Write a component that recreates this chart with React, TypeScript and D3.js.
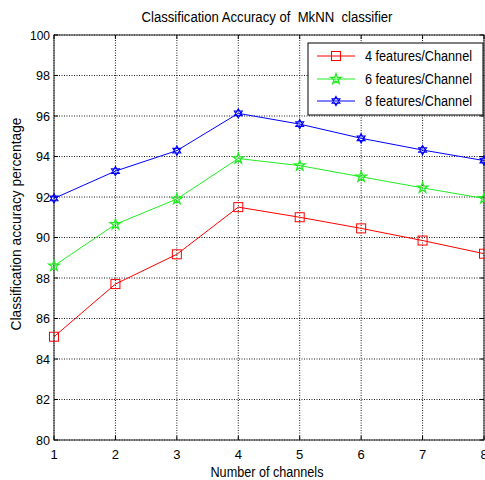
import React from "react";
import * as d3 from "d3";

const channels = [1, 2, 3, 4, 5, 6, 7, 8];
const feat4 = [85.1, 87.7, 89.17, 91.5, 91.0, 90.45, 89.85, 89.2];
const feat6 = [88.6, 90.65, 91.9, 93.9, 93.55, 93.0, 92.45, 91.93];
const feat8 = [91.93, 93.28, 94.29, 96.13, 95.6, 94.9, 94.32, 93.8];
const seriesNames = ["4 features/Channel", "6 features/Channel", "8 features/Channel"];
const yTicks = [80, 82, 84, 86, 88, 90, 92, 94, 96, 98, 100];

const W = 485, H = 480;
const left = 54, right = 484, top = 35, bottom = 440;
const FONT = "'Liberation Sans', Arial, sans-serif";

function hexagram(r: number) {
  const pts = (off: number) => d3.range(3).map(i => {
    const a = off + (i * 2 * Math.PI) / 3;
    return [r * Math.cos(a), r * Math.sin(a)];
  });
  const t1 = pts(-Math.PI / 2), t2 = pts(Math.PI / 2);
  const p = (t: number[][]) => "M" + t.map(q => q.join(",")).join("L") + "Z";
  return p(t1) + p(t2);
}

function Marker({ kind, x, y, color }: { kind: number; x: number; y: number; color: string }) {
  if (kind === 0) return <rect x={x - 4.5} y={y - 4.5} width={9} height={9} fill="none" stroke={color} strokeWidth={1} />;
  if (kind === 1) {
    const path = d3.symbol(d3.symbolStar, 34)() as string;
    return <path d={path} transform={`translate(${x},${y})`} fill="none" stroke={color} strokeWidth={1.3} />;
  }
  return <path d={hexagram(4.6)} transform={`translate(${x},${y})`} fill="none" stroke={color} strokeWidth={1.1} />;
}

export default function App() {
  const x = d3.scaleLinear().domain([1, 8]).range([left, right]);
  const y = d3.scaleLinear().domain([80, 100]).range([bottom, top]);
  const line = d3.line<number>().x((_, i) => x(channels[i])).y(d => y(d));
  const series = [feat4, feat6, feat8];
  const colors = ["#ff0000", "#22ee22", "#0000ff"];
  const legendY = [56, 79, 101];
  return (
    <svg width={W} height={H} style={{ position: "absolute", left: 0, top: 0 }}>
      <rect width={W} height={H} fill="#fff" />
      {/* grid */}
      {channels.map(c => (
        <line key={"gx" + c} x1={x(c)} x2={x(c)} y1={top} y2={bottom} stroke="#000" strokeWidth={0.9} strokeDasharray="1,1.5" />
      ))}
      {yTicks.map(t => (
        <line key={"gy" + t} x1={left} x2={right} y1={y(t)} y2={y(t)} stroke="#000" strokeWidth={0.9} strokeDasharray="1,1.5" />
      ))}
      {/* box */}
      <rect x={left} y={top} width={right - left} height={bottom - top} fill="none" stroke="#222" strokeWidth={1} />
      {/* ticks */}
      {channels.map(c => (
        <g key={"tx" + c}>
          <line x1={x(c)} x2={x(c)} y1={bottom} y2={bottom - 4} stroke="#000" />
          <line x1={x(c)} x2={x(c)} y1={top} y2={top + 4} stroke="#000" />
          <text x={x(c)} y={459} fontSize={13} fontFamily={FONT} textAnchor="middle">{c}</text>
        </g>
      ))}
      {yTicks.map(t => (
        <g key={"ty" + t}>
          <line x1={left} x2={left + 4} y1={y(t)} y2={y(t)} stroke="#000" />
          <line x1={right} x2={right - 4} y1={y(t)} y2={y(t)} stroke="#000" />
          <text x={50} y={y(t) + 4.5} fontSize={13} fontFamily={FONT} textAnchor="end" textLength={t === 100 ? 20 : 14} lengthAdjust="spacingAndGlyphs">{t}</text>
        </g>
      ))}
      {/* series */}
      {series.map((s, k) => (
        <g key={"s" + k}>
          <path d={line(s) as string} fill="none" stroke={colors[k]} strokeWidth={1} />
          {s.map((v, i) => <Marker key={i} kind={k} x={x(channels[i])} y={y(v)} color={colors[k]} />)}
        </g>
      ))}
      {/* legend */}
      <rect x={308} y={43} width={175} height={72} fill="#fff" stroke="#000" strokeWidth={1} />
      {seriesNames.map((n, k) => (
        <g key={"l" + k}>
          <line x1={317} x2={355} y1={legendY[k]} y2={legendY[k]} stroke={colors[k]} strokeWidth={1} />
          <Marker kind={k} x={336} y={legendY[k]} color={colors[k]} />
          <text x={365} y={legendY[k] + 5} fontSize={14} fontFamily={FONT} textLength={107} lengthAdjust="spacingAndGlyphs">{n}</text>
        </g>
      ))}
      {/* titles */}
      <text x={267} y={22} fontSize={14} fontFamily={FONT} textAnchor="middle" textLength={251} lengthAdjust="spacingAndGlyphs" style={{ whiteSpace: "pre" }}>Classification Accuracy of  MkNN  classifier</text>
      <text x={267} y={477} fontSize={14} fontFamily={FONT} textAnchor="middle" textLength={113} lengthAdjust="spacingAndGlyphs">Number of channels</text>
      <text transform="translate(21,224) rotate(-90)" fontSize={14} fontFamily={FONT} textAnchor="middle" textLength={213} lengthAdjust="spacingAndGlyphs">Classification accuracy percentage</text>
    </svg>
  );
}
